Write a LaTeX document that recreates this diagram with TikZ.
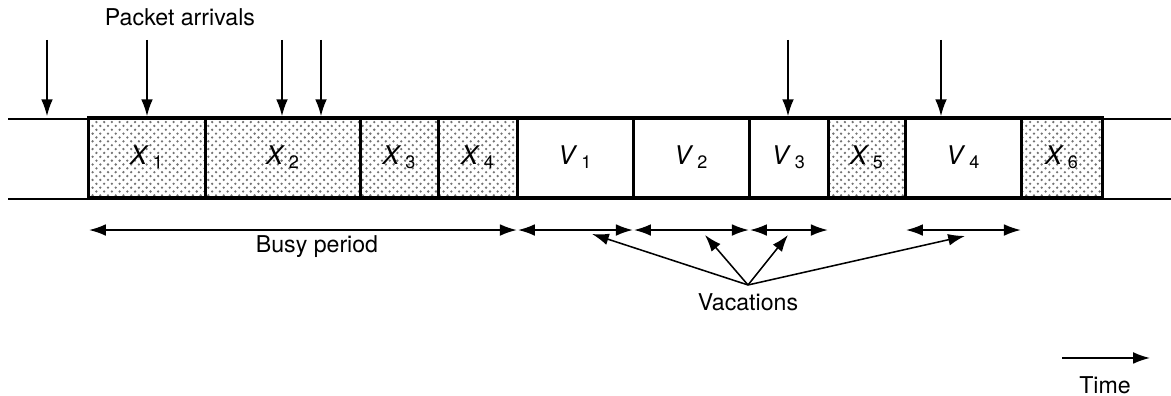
\documentclass[tikz,border=0pt]{standalone}
\usepackage{fontspec}
\setmainfont{TeX Gyre Heros}
\usetikzlibrary{arrows.meta,patterns}

\newcommand{\boxlbl}[2]{\textit{#1}\kern1.5pt\textsubscript{#2}}

\tikzset{
  >={Latex[length=2.3mm,width=1.6mm]},
  rail/.style={line width=1.1pt},
  slotbox/.style={draw,line width=1.1pt,inner sep=0pt,anchor=south west,
    minimum height=1.093cm,font=\fontsize{10}{12}\selectfont},
  job/.style={slotbox,pattern=crosshatch dots,pattern color=black!55},
  vac/.style={slotbox},
  span/.style={<->,line width=0.6pt,shorten >=0.8pt,shorten <=0.8pt},
  arrival/.style={->,line width=0.6pt},
  lbl/.style={font=\fontsize{9}{11}\selectfont}
}

\begin{document}
\begin{tikzpicture}[x=0.13664cm,y=0.13664cm]
\useasboundingbox (0,0) rectangle (117.1,39.6);

%SLOTS
\foreach \a/\b/\n/\l/\k/\s in {8.7/20.4/x1/X/1/job, 20.4/35.9/x2/X/2/job,
    35.9/43.7/x3/X/3/job, 43.7/51.6/x4/X/4/job, 51.6/63.2/v1/V/1/vac,
    63.2/74.8/v2/V/2/vac, 74.8/82.7/v3/V/3/vac, 82.7/90.4/x5/X/5/job,
    90.4/102.0/v4/V/4/vac, 102.0/110.1/x6/X/6/job}
  \node[\s,minimum width={(\b-\a)*0.13664cm}] (\n) at (\a,19.7) {\boxlbl{\l}{\k}};

% top and bottom line
\draw[rail] (0.8,27.7) -- (117.1,27.7);
\draw[rail] (0.8,19.7) -- (117.1,19.7);

%ARRIVALS
\node[lbl] (arr) at (18.0,37.9) {Packet arrivals};
\foreach \p [count=\c] in {4.7,14.7,28.2,32.1,78.8,94.1}
  {\coordinate (a\c) at (\p,35.6);
   \draw[arrival] (a\c) -- (a\c |- x1.north);}

%PERIODS
\draw[span] ([yshift=-0.424cm]x1.south west) -- ([yshift=-0.424cm]x4.south east);
\foreach \n in {v1,v2,v3,v4}
  \draw[span] ([yshift=-0.424cm]\n.south west) -- ([yshift=-0.424cm]\n.south east);
\node[lbl] (busy) at (31.7,14.9) {Busy period};

% vacations
\node[lbl,anchor=north] (vacs) at (74.8,11.1) {Vacations};
\foreach \x/\y [count=\c] in {59.2/16.2,70.5/16.1,78.8/16.1,96.5/16.0}
  {\coordinate (tip\c) at (\x,\y);
   \draw[arrival] (vacs.north) -- (tip\c);}

%TIME
\coordinate (t0) at (106.2,3.8);
\coordinate (tend) at (115.0,3.8);
\draw[arrival] (t0) -- (tend);
\node[lbl] (time) at (110.5,1.1) {Time};

\end{tikzpicture}
\end{document}
